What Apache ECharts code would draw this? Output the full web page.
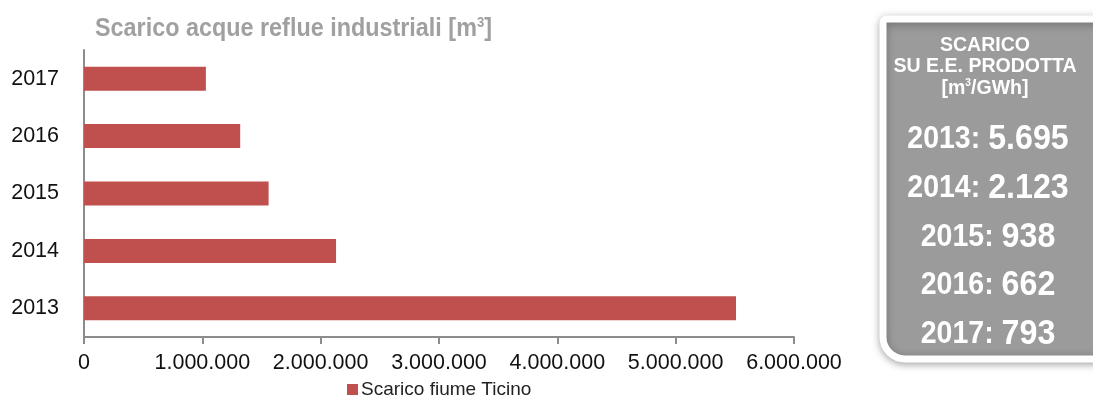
<!DOCTYPE html>
<html><head><meta charset="utf-8">
<script src="https://cdn.jsdelivr.net/npm/echarts@6/dist/echarts.min.js"></script>
<style>html,body{margin:0;padding:0;background:#fff}#c{width:1093px;height:400px}</style>
</head><body><div id="c"></div>
<script>
const years = ['2013','2014','2015','2016','2017'];
const scarico = [5510000, 2130000, 1560000, 1320000, 1030000];
const xTicks = [0, 1000000, 2000000, 3000000, 4000000, 5000000, 6000000];
const seriesName = 'Scarico fiume Ticino';
const titleText = 'Scarico acque reflue industriali [m{sup|3}]';
const panelHeader = ['SCARICO', 'SU E.E. PRODOTTA', '[m{sup|3}/GWh]'];
const panelYears = ['2013', '2014', '2015', '2016', '2017'];
const panelValues = ['5.695', '2.123', '938', '662', '793'];

const FONT = '"Liberation Sans", Arial, sans-serif';
function fmt(v){ return String(v).replace(/\B(?=(\d{3})+(?!\d))/g, '.'); }

const graphics = [];
// title as scaled text (mimic narrow bold font)
graphics.push({
  type: 'text', z: 11, x: 95, y: 29, scaleX: 0.935,
  style: { text: titleText, fill: '#a0a0a0', font: 'bold 25px ' + FONT, align: 'left', verticalAlign: 'middle',
    rich: { sup: { fill: '#a0a0a0', fontSize: 14, fontWeight: 'bold', fontFamily: FONT, verticalAlign: 'top', padding: [0,0,12,0] } } }
});
graphics.push({
  type: 'rect', z: 10,
  shape: { x: 883, y: 19, width: 240, height: 340, r: [4, 22, 0, 22] },
  style: { fill: '#9b9b9b', stroke: '#ffffff', lineWidth: 7, shadowBlur: 9, shadowColor: 'rgba(0,0,0,0.3)', shadowOffsetX: 0, shadowOffsetY: 2 }
});
const hdrY = [45, 66, 88];
panelHeader.forEach((t, i) => {
  graphics.push({
    type: 'text', z: 11, x: 985, y: hdrY[i], scaleX: 0.93,
    style: { text: t, fill: '#fff', font: 'bold 21px ' + FONT, align: 'center', verticalAlign: 'middle',
      rich: { sup: { fill: '#fff', fontSize: 11, fontWeight: 'bold', fontFamily: FONT, verticalAlign: 'top', padding: [0,0,10,0] } } }
  });
});
const rowY = [139, 188, 237, 285, 334];
panelYears.forEach((y, i) => {
  graphics.push({
    type: 'text', z: 11, x: 988, y: rowY[i], scaleX: 0.92,
    style: { text: '{a|' + y + ': }{b|' + panelValues[i] + '}', align: 'center', verticalAlign: 'middle',
      rich: {
        a: { fill: '#fff', fontSize: 31, fontWeight: 'bold', fontFamily: FONT },
        b: { fill: '#fff', fontSize: 35, fontWeight: 'bold', fontFamily: FONT }
      } }
  });
});

const chart = echarts.init(document.getElementById('c'));
chart.setOption({
  animation: false,
  legend: {
    data: [seriesName], left: 342, top: 375, itemWidth: 11, itemHeight: 11, itemGap: 5,
    icon: 'rect',
    textStyle: { color: '#222', fontSize: 19, fontFamily: FONT, padding: [0,0,0,-2] }
  },
  grid: { left: 84, right: 299, top: 50, bottom: 63, containLabel: false },
  xAxis: {
    type: 'value', min: 0, max: 6000000, interval: 1000000,
    axisLine: { show: true, lineStyle: { color: '#8c8c8c', width: 2 } },
    axisTick: { show: true, length: 7, lineStyle: { color: '#8c8c8c', width: 2 } },
    splitLine: { show: false },
    axisLabel: { color: '#111', fontSize: 21.5, fontFamily: FONT, margin: 15,
      formatter: v => xTicks.includes(v) ? fmt(v) : '' }
  },
  yAxis: {
    type: 'category', data: years,
    axisLine: { show: true, lineStyle: { color: '#8c8c8c', width: 2 } },
    axisTick: { show: false },
    axisLabel: { color: '#111', fontSize: 21.5, fontFamily: FONT, margin: 25 }
  },
  series: [{
    name: seriesName, type: 'bar', data: scarico, barWidth: 24,
    itemStyle: { color: '#c0504d' }
  }],
  graphic: graphics
});
</script></body></html>
